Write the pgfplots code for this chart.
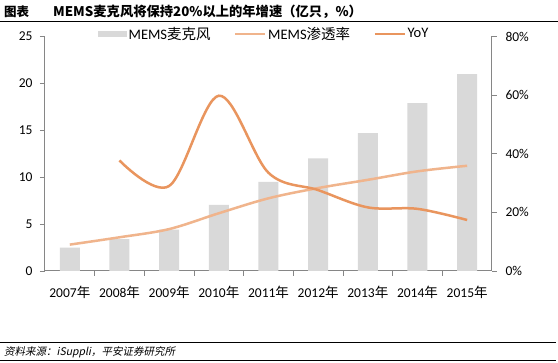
\documentclass[border=0pt]{standalone}
\usepackage{fontspec}
\setmainfont{Carlito}
\newfontfamily\cjk{Noto Sans CJK SC}
\newfontfamily\cjkit{Noto Sans CJK SC}[FakeSlant=0.2]
\usepackage{pgfplots}
\pgfplotsset{compat=1.18}
\definecolor{barc}{HTML}{D9D9D9}
\definecolor{penc}{HTML}{F0B48C}
\definecolor{yoyc}{HTML}{E9955E}
\definecolor{axc}{HTML}{868686}
\pgfplotsset{base/.style={scale only axis, width=447pt, height=234.5pt,
  at={(45pt,-271pt)}, anchor=south west, xmin=-0.5, xmax=8.5,
  axis line style={axc, line width=1pt},
  tick label style={font=\fontsize{13.5}{16}\selectfont, black},
  clip=false}}
\begin{document}
\begin{tikzpicture}
\path[use as bounding box, fill=white] (0,0) rectangle (558pt,-363pt);
\begin{axis}[base, ymin=0, ymax=25,
  axis x line*=bottom, axis y line*=left,
  tick align=outside, major tick length=5pt, minor tick length=5pt,
  ytick={0,5,...,25}, yticklabels={0,5,10,15,20,25},
  yticklabel style={xshift=-4pt},
  xticklabel style={yshift=-7pt},
  y tick style={axc, line width=0.8pt},
  xtick={0,...,8},
  xticklabels={2007{\cjk 年},2008{\cjk 年},2009{\cjk 年},2010{\cjk 年},2011{\cjk 年},2012{\cjk 年},2013{\cjk 年},2014{\cjk 年},2015{\cjk 年}},
  major x tick style={draw=none},
  minor xtick={0.5,1.5,...,7.5},
  minor x tick style={axc, line width=0.8pt}]
\addplot[ybar, bar width=20pt, bar shift=0pt, fill=barc, draw=none]
  coordinates {(0,2.5) (1,3.4) (2,4.4) (3,7.05) (4,9.5) (5,12.0) (6,14.7) (7,17.9) (8,21.0)};
\end{axis}
\begin{axis}[base, ymin=0, ymax=80,
  axis y line*=right, axis x line=none,
  tick align=outside, major tick length=5pt,
  ytick={0,20,...,80}, yticklabels={0\%,20\%,40\%,60\%,80\%},
  yticklabel style={xshift=5pt},
  y tick style={axc, line width=0.8pt},
  xtick=\empty,
  legend columns=-1, legend cell align=left,
  legend style={at={(0.1186,1.0107)}, anchor=west, draw=none, fill=none,
    inner sep=0pt, font=\fontsize{14.5}{16}\selectfont,
    /tikz/every even column/.append style={column sep=22pt}}]
\addlegendimage{legend image code/.code={\fill[barc] (0pt,-2.5pt) rectangle (28pt,2.5pt);}}
\addlegendentry{MEMS{\cjk 麦克风}}
\addplot[penc, line width=2.5pt, smooth, tension=0.55,
  legend image code/.code={\draw[penc, line width=1.5pt] (0pt,0pt) -- (30pt,0pt);}]
  coordinates {(0,9.0) (1,11.5) (2,14.3) (3,19.7) (4,24.8) (5,28.3) (6,31.1) (7,34.0) (8,35.9)};
\addlegendentry{MEMS{\cjk 渗透率}}
\addplot[yoyc, line width=2.5pt, smooth, tension=0.55,
  legend image code/.code={\draw[yoyc, line width=1.5pt] (0pt,0pt) -- (30pt,0pt);}]
  coordinates {(1,37.7) (2,29.0) (3,59.8) (4,33.5) (5,27.6) (6,21.7) (7,21.2) (8,17.4)};
\addlegendentry{YoY}
\end{axis}
\node[anchor=west, inner sep=0pt, font=\cjk\bfseries\fontsize{12.5}{14}\selectfont] at (4pt,-11.5pt) {图表};
\node[anchor=west, inner sep=0pt, font=\cjk\bfseries\fontsize{13.3}{15}\selectfont] at (53pt,-11.5pt) {MEMS麦克风将保持20\%以上的年增速（亿只，\%）};
\draw[black, line width=0.8pt] (0pt,-21pt) -- (558pt,-21pt);
\draw[black, line width=0.8pt] (0pt,-342.7pt) -- (556pt,-342.7pt);
\draw[black, line width=0.8pt] (0pt,-360.7pt) -- (556pt,-360.7pt);
\node[anchor=west, inner sep=0pt, font=\cjkit\fontsize{10.5}{12}\selectfont] at (4pt,-352pt) {资料来源：iSuppli，平安证券研究所};
\end{tikzpicture}
\end{document}
